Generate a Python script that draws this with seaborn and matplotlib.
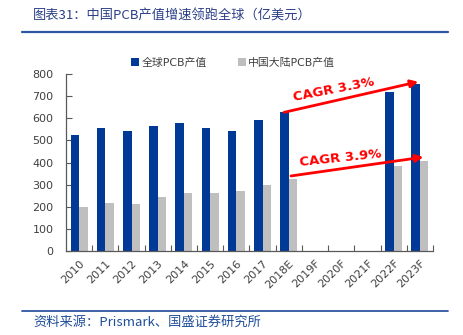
import matplotlib
matplotlib.use("Agg")
import matplotlib.pyplot as plt
from matplotlib.lines import Line2D
import numpy as np
import pandas as pd
import seaborn as sns

# Data (亿美元)
years = ["2010", "2011", "2012", "2013", "2014", "2015", "2016", "2017",
         "2018E", "2019F", "2020F", "2021F", "2022F", "2023F"]
global_pcb = [525, 555, 545, 565, 577, 557, 545, 592, 627,
              np.nan, np.nan, np.nan, 717, 753]
china_pcb = [201, 219, 213, 246, 264, 264, 272, 298, 328,
             np.nan, np.nan, np.nan, 386, 407]
series_names = ["全球PCB产值", "中国大陆PCB产值"]
cagr_labels = ["CAGR 3.3%", "CAGR 3.9%"]
yticks = [0, 100, 200, 300, 400, 500, 600, 700, 800]

BLUE = "#003A96"
GRAY = "#BFBFBF"
RED = "#FF0000"
TXT = "#404040"
LINE_BLUE = "#2F55A0"

sns.set_theme(style="white")
plt.rcParams["font.family"] = ["DejaVu Sans", "Noto Sans CJK SC"]

df = pd.DataFrame({
    "year": years * 2,
    "series": [series_names[0]] * len(years) + [series_names[1]] * len(years),
    "value": global_pcb + china_pcb,
})

fig = plt.figure(figsize=(4.64, 3.35), dpi=100)
ax = fig.add_axes([66 / 464, 1 - 251.3 / 335, 367 / 464, (251.3 - 74) / 335])

sns.barplot(data=df, x="year", y="value", hue="series", order=years,
            hue_order=series_names, palette=[BLUE, GRAY], width=0.65,
            gap=0, errorbar=None, saturation=1, linewidth=0, ax=ax)

ax.set_xlim(-0.5, len(years) - 0.5)
ax.set_ylim(0, 800)
ax.set_yticks(yticks)
ax.set_xlabel("")
ax.set_ylabel("")

# category labels at centres, tick marks on the category boundaries
ax.set_xticks(range(len(years)))
ax.set_xticklabels(years, rotation=45, ha="right", rotation_mode="anchor")
ax.set_xticks(np.arange(0.5, len(years), 1.0), minor=True)
ax.tick_params(axis="x", which="major", length=0, pad=5, labelsize=8,
               labelcolor=TXT)
ax.tick_params(axis="x", which="minor", direction="in", length=4, width=0.8,
               color="#595959", bottom=True)
ax.tick_params(axis="y", direction="in", length=4, width=0.8, color="#595959",
               labelsize=8, labelcolor=TXT, pad=9, left=True)

for side in ("top", "right"):
    ax.spines[side].set_visible(False)
for side in ("left", "bottom"):
    ax.spines[side].set_color("#595959")
    ax.spines[side].set_linewidth(0.9)

# legend above the plot area
handles, labels = ax.get_legend_handles_labels()
ax.legend(handles, labels, loc="center left", ncol=2, frameon=False,
          bbox_to_anchor=(131 / 464, 1 - 63 / 335), bbox_transform=fig.transFigure,
          borderaxespad=0, borderpad=0, handlelength=0.75, handleheight=0.75,
          handletextpad=0.2, columnspacing=2.9, prop={"size": 7.8},
          labelcolor=TXT)

# CAGR arrows from 2018E to 2023F
i0, i1 = years.index("2018E"), years.index("2023F")
off = 0.65 / 4
ax.annotate("", xy=(i1 - off + 0.1, global_pcb[i1] + 12),
            xytext=(i0 - off - 0.02, global_pcb[i0]),
            arrowprops=dict(arrowstyle="-|>", color=RED, lw=2,
                            mutation_scale=11, shrinkA=0, shrinkB=0))
ax.annotate("", xy=(i1 + off - 0.03, china_pcb[i1] + 18),
            xytext=(i0 + off - 0.08, china_pcb[i0] + 12),
            arrowprops=dict(arrowstyle="-|>", color=RED, lw=2,
                            mutation_scale=11, shrinkA=0, shrinkB=0))
ax.text(9.71, 730, cagr_labels[0], color=RED, fontsize=9.5, fontweight="bold",
        rotation=11, ha="center", va="center", rotation_mode="anchor")
ax.text(9.96, 419, cagr_labels[1], color=RED, fontsize=9.5, fontweight="bold",
        rotation=6, ha="center", va="center", rotation_mode="anchor")

# header and footer
fig.text(33 / 464, 1 - 16 / 335, "图表31：中国PCB产值增速领跑全球（亿美元）",
         color="#2B3F86", fontsize=9.5, style="italic", va="center",
         family=["Noto Sans CJK SC", "DejaVu Sans"])
fig.add_artist(Line2D([22 / 464, 448 / 464], [1 - 32.3 / 335] * 2,
                      transform=fig.transFigure, color=LINE_BLUE, lw=1.6))
fig.add_artist(Line2D([22 / 464, 448 / 464], [1 - 310.7 / 335] * 2,
                      transform=fig.transFigure, color=LINE_BLUE, lw=1.3))
fig.text(33 / 464, 1 - 322 / 335, "资料来源：Prismark、国盛证券研究所",
         color="#1F4E9A", fontsize=9.5, style="italic", va="center",
         family=["Noto Sans CJK SC", "DejaVu Sans"])

fig.savefig("out.png", dpi=100, facecolor="white")
